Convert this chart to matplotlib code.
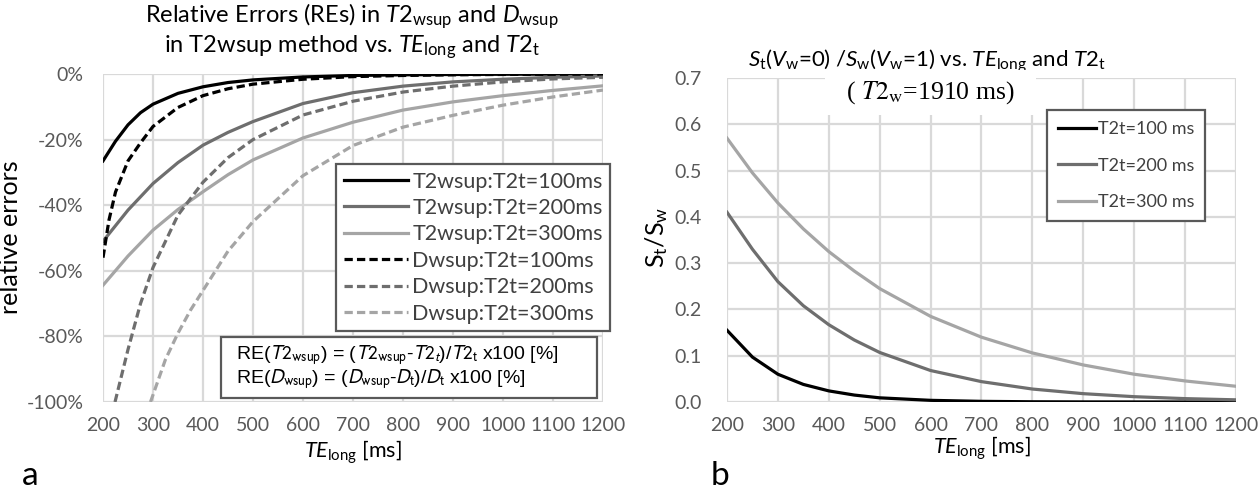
import matplotlib
matplotlib.use('Agg')
import matplotlib.pyplot as plt
from matplotlib.patches import Rectangle
from matplotlib.ticker import FuncFormatter

plt.rcParams['font.family'] = ['Lato', 'DejaVu Sans']
plt.rcParams['mathtext.fontset'] = 'custom'
plt.rcParams['mathtext.rm'] = 'Lato'
plt.rcParams['mathtext.it'] = 'Lato:italic'
plt.rcParams['mathtext.bf'] = 'Lato:bold'

# ---- panel a: relative errors [%] vs TE_long [ms]
te_a = [200, 250, 300, 350, 400, 450, 500, 600, 700, 800, 900, 1000, 1100, 1200]
t2_100_te = [200, 225, 250, 275, 300, 350, 400, 450, 500, 600, 700, 800, 900, 1000, 1100, 1200]
t2_100 = [-26.5, -20.5, -15.5, -11.8, -9.2, -5.9, -3.9, -2.6, -1.8, -0.9, -0.45, -0.25, -0.15, -0.08, -0.04, -0.02]
t2_200 = [-51, -41.5, -33.4, -27, -21.7, -17.8, -14.5, -9, -5.7, -3.7, -2.4, -1.6, -1.0, -0.6]
t2_300 = [-64.4, -55.5, -47.6, -41.3, -35.9, -30.7, -26.2, -19.5, -14.7, -11, -8.5, -6.6, -5.0, -3.6]
d_100_te = [200, 212, 225, 250, 275, 300, 350, 400, 450, 500, 600, 700, 800, 900, 1000, 1100, 1200]
d_100 = [-56, -44.5, -36, -26.5, -21, -16, -10.2, -6.6, -4.5, -3.1, -1.6, -0.8, -0.45, -0.25, -0.14, -0.08, -0.04]
d_200_te = [224, 250, 275, 300, 350, 400, 450, 500, 600, 700, 800, 900, 1000, 1100, 1200]
d_200 = [-100, -84, -70, -59, -43, -33, -25.5, -20, -12.5, -8.3, -5.5, -3.7, -2.4, -1.5, -1.0]
d_300_te = [295, 325, 350, 375, 400, 450, 500, 600, 700, 800, 900, 1000, 1100, 1200]
d_300 = [-100, -87, -79, -72, -66, -54, -45, -31, -21.8, -16.2, -12.6, -9.5, -7, -4.9]

# ---- panel b: St/Sw vs TE_long [ms]
te_b = [200, 250, 300, 350, 400, 450, 500, 600, 700, 800, 900, 1000, 1100, 1200]
ratio_100 = [0.155, 0.097, 0.060, 0.038, 0.024, 0.015, 0.009, 0.0036, 0.0014, 0.0005, 0.0002, 0.0001, 0.00003, 0.00001]
ratio_200 = [0.41, 0.33, 0.26, 0.208, 0.167, 0.134, 0.107, 0.068, 0.044, 0.028, 0.018, 0.0115, 0.0073, 0.0047]
ratio_300 = [0.57, 0.495, 0.43, 0.374, 0.325, 0.283, 0.245, 0.185, 0.14, 0.106, 0.08, 0.06, 0.0455, 0.034]

c_black = '#000000'
c_mid = '#6e6e6e'
c_light = '#a5a5a5'
grid_c = '#d9d9d9'
tick_c = '#595959'
W, H = 1260, 493

fig = plt.figure(figsize=(12.6, 4.93), dpi=100)

def fx(px):
    return px / W

def fy(py):
    return 1 - py / H

def style_axes(ax):
    for s in ax.spines.values():
        s.set_visible(False)
    ax.grid(True, color=grid_c, linewidth=1.6)
    ax.set_axisbelow(True)
    ax.tick_params(length=0, labelsize=14, labelcolor=tick_c)
    ax.set_xlim(200, 1200)
    ax.set_xticks(range(200, 1201, 100))

ax1 = fig.add_axes([fx(103), fy(402), fx(603) - fx(103), fy(74) - fy(402)])
style_axes(ax1)
ax1.set_ylim(-100, 0)
ax1.set_yticks(range(-100, 1, 20))
ax1.yaxis.set_major_formatter(FuncFormatter(lambda v, p: '%d%%' % v))
ax1.tick_params(axis='x', pad=11)
ax1.tick_params(axis='y', pad=14)

lw = 2.3
dash = (2.6, 1.3)
ax1.plot(t2_100_te, t2_100, color=c_black, lw=lw, label='T2wsup:T2t=100ms')
ax1.plot(te_a, t2_200, color=c_mid, lw=lw, label='T2wsup:T2t=200ms')
ax1.plot(te_a, t2_300, color=c_light, lw=lw, label='T2wsup:T2t=300ms')
ax1.plot(d_100_te, d_100, color=c_black, lw=lw, dashes=dash, label='Dwsup:T2t=100ms')
ax1.plot(d_200_te, d_200, color=c_mid, lw=lw, dashes=dash, label='Dwsup:T2t=200ms')
ax1.plot(d_300_te, d_300, color=c_light, lw=lw, dashes=dash, label='Dwsup:T2t=300ms')

ax1.set_xlabel(r'$TE_{\mathrm{long}}$ [ms]', fontsize=15.5, labelpad=3)
ax1.set_ylabel('relative errors', fontsize=18)
ax1.yaxis.set_label_coords(fx(22), fy(237), transform=fig.transFigure)

leg1 = ax1.legend(loc='upper left', bbox_to_anchor=(fx(336), fy(164)),
                  bbox_transform=fig.transFigure, borderaxespad=0,
                  fontsize=15.5, handlelength=3.0, handletextpad=0.2,
                  labelspacing=0.3, borderpad=0.35, fancybox=False,
                  framealpha=1, edgecolor='#595959')
leg1.get_frame().set_linewidth(1.6)
for t in leg1.get_texts():
    t.set_color('#404040')

fig.text(fx(352), fy(31), r'Relative Errors (REs) in $T2_{\mathrm{wsup}}$ and $D_{\mathrm{wsup}}$'
         '\n' r'in T2wsup method vs. $TE_{\mathrm{long}}$ and $T2_{\mathrm{t}}$',
         ha='center', va='center', fontsize=17, linespacing=1.15)

fig.add_artist(Rectangle((fx(221), fy(398)), fx(597) - fx(221), fy(337) - fy(398),
                         transform=fig.transFigure, facecolor='white',
                         edgecolor='#595959', linewidth=1.6, zorder=5))
fig.text(fx(236), fy(367),
         r'RE($T2_{\mathrm{wsup}}$) = ($T2_{\mathrm{wsup}}$-$T2_{t}$)/$T2_{\mathrm{t}}$ x100 [%]'
         '\n' r'RE($D_{\mathrm{wsup}}$) = ($D_{\mathrm{wsup}}$-$D_{\mathrm{t}}$)/$D_{\mathrm{t}}$ x100 [%]',
         ha='left', va='center', fontsize=14,
         family=['Liberation Sans'], math_fontfamily='stixsans', linespacing=1.05,
         zorder=6)

fig.text(fx(30), fy(476), 'a', fontsize=24, ha='center', va='center')

# ---- panel b
ax2 = fig.add_axes([fx(727), fy(402), fx(1236) - fx(727), fy(78) - fy(402)])
style_axes(ax2)
ax2.set_ylim(0, 0.7)
ax2.set_yticks([0, 0.1, 0.2, 0.3, 0.4, 0.5, 0.6, 0.7])
ax2.yaxis.set_major_formatter(FuncFormatter(lambda v, p: '%.1f' % v))
ax2.tick_params(axis='x', pad=11)
ax2.tick_params(axis='y', pad=18)

ax2.plot(te_b, ratio_100, color=c_black, lw=lw, label='T2t=100 ms')
ax2.plot(te_b, ratio_200, color=c_mid, lw=lw, label='T2t=200 ms')
ax2.plot(te_b, ratio_300, color=c_light, lw=lw, label='T2t=300 ms')

ax2.set_xlabel(r'$TE_{\mathrm{long}}$ [ms]', fontsize=15.5, labelpad=0)
ax2.set_ylabel(r'S$_{\mathrm{t}}$/S$_{\mathrm{w}}$', fontsize=18)
ax2.yaxis.set_label_coords(fx(670), fy(237), transform=fig.transFigure)

leg2 = ax2.legend(loc='upper left', bbox_to_anchor=(fx(1047), fy(110)),
                  bbox_transform=fig.transFigure, borderaxespad=0,
                  fontsize=13, handlelength=2.1, handletextpad=0.1,
                  labelspacing=1.15, borderpad=0.6, fancybox=False,
                  framealpha=1, edgecolor='#595959')
leg2.get_frame().set_linewidth(1.6)
for t in leg2.get_texts():
    t.set_color('#404040')

fig.text(fx(927), fy(61), r'$S_{\mathrm{t}}$($V_{\mathrm{w}}$=0) /$S_{\mathrm{w}}$($V_{\mathrm{w}}$=1) vs. '
         r'$TE_{\mathrm{long}}$ and $T2_{\mathrm{t}}$',
         ha='center', va='center', fontsize=16, zorder=3)
fig.add_artist(Rectangle((fx(825), fy(115)), fx(1036) - fx(825), fy(70) - fy(115),
                         transform=fig.transFigure, facecolor='white',
                         edgecolor='none', zorder=3.5))
fig.text(fx(930), fy(93), r'( $T2_{\mathrm{w}}$=1910 ms)', ha='center', va='center',
         fontsize=18.5, family=['Liberation Serif'], math_fontfamily='stix', zorder=4)

fig.text(fx(720), fy(476), 'b', fontsize=24, ha='center', va='center')

fig.savefig('out.png', dpi=100, facecolor='white')
